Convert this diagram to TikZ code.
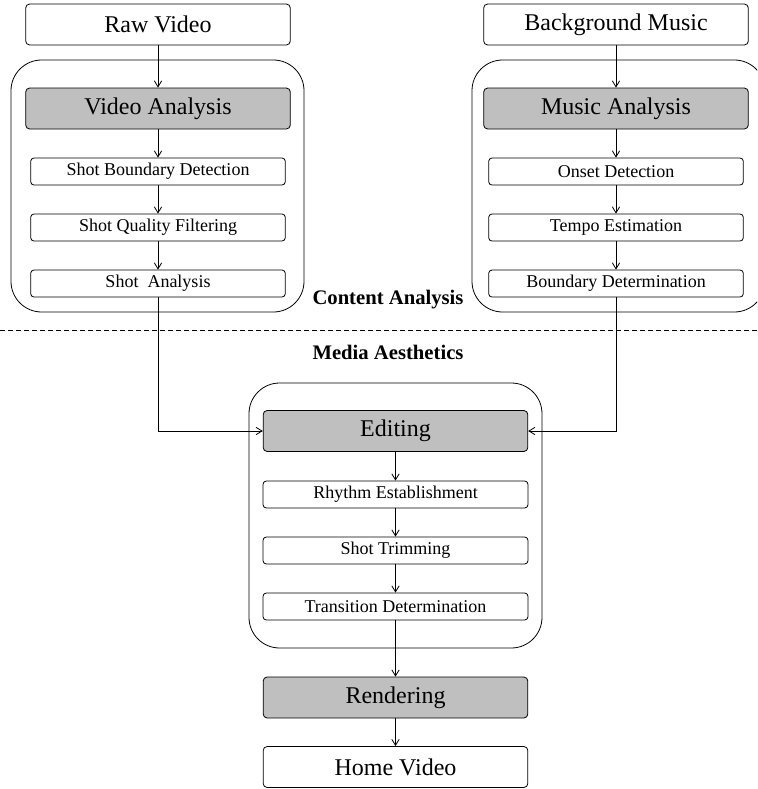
\documentclass[tikz,border=0pt]{standalone}
\usepackage{fontspec}
\setmainfont{Liberation Serif}
\usetikzlibrary{arrows.meta}

\begin{document}
\begin{tikzpicture}[x=0.75pt,y=-0.75pt,line width=0.6pt,
  every node/.style={inner sep=0pt},
  bigbox/.style={draw,rounded corners=3pt,minimum width=198.5pt,minimum height=30.75pt,
    font=\fontsize{18pt}{20pt}\selectfont},
  procbox/.style={bigbox,fill=black!25},
  stepbox/.style={draw,rounded corners=2.5pt,minimum width=191pt,minimum height=20.25pt,
    font=\fontsize{13.5pt}{15pt}\selectfont},
  widestep/.style={stepbox,minimum width=198.75pt},
  groupbox/.style={draw,rounded corners=23pt,minimum width=219.75pt},
  layer/.style={font=\fontsize{15.5pt}{17pt}\selectfont\bfseries},
  arr/.style={-{Straight Barb[length=4.5pt,width=5.5pt]}}]
  \clip (0,0) rectangle (757,789);
  \node[groupbox,minimum height=189pt]    (vgroup) at (157.5,186) {};
  \node[groupbox,minimum height=189pt]    (mgroup) at (618.5,186) {};
  \node[groupbox,minimum height=198.75pt] (egroup) at (395.5,515.5) {};
  \node[bigbox]   (rawvideo) at (158,24.5)  {Raw Video};
  \node[procbox]  (videoana) at (158,108.5) {Video Analysis};
  \node[stepbox]  (boundary) at (158,171.5) {Shot Boundary Detection};
  \node[stepbox]  (quality)  at (158,227.5) {Shot Quality Filtering};
  \node[stepbox]  (shotana)  at (158,283.5) {Shot~ Analysis};
  \node[bigbox]   (bgmusic)  at (616,24.5)  {Background Music};
  \node[procbox]  (musicana) at (616,108.5) {Music Analysis};
  \node[stepbox]  (onset)    at (616,171.5) {Onset Detection};
  \node[stepbox]  (tempo)    at (616,227.5) {Tempo Estimation};
  \node[stepbox]  (musicbd)  at (616,283.5) {Boundary Determination};
  \node[procbox]  (editing)  at (395.5,431)   {Editing};
  \node[widestep] (rhythm)   at (395.5,494.5) {Rhythm Establishment};
  \node[widestep] (trimming) at (395.5,550.5) {Shot Trimming};
  \node[widestep] (transit)  at (395.5,606.5) {Transition Determination};
  \node[procbox]  (rendering) at (395.5,697.5) {Rendering};
  \node[bigbox]   (homevideo) at (395.5,767)   {Home Video};
  \node[layer] (content) at (388,300) {Content Analysis};
  \node[layer] (media)   at (388,352) {Media Aesthetics};
  \draw[dashed,dash pattern=on 3.5pt off 2.5pt] (0,330) -- (757,330);
  \draw[arr] (rawvideo) -- (videoana);
  \draw[arr] (videoana) -- (boundary);
  \draw[arr] (boundary) -- (quality);
  \draw[arr] (quality) -- (shotana);
  \draw[arr] (bgmusic) -- (musicana);
  \draw[arr] (musicana) -- (onset);
  \draw[arr] (onset) -- (tempo);
  \draw[arr] (tempo) -- (musicbd);
  \draw[arr] (shotana) |- (editing);
  \draw[arr] (musicbd) |- (editing);
  \draw[arr] (editing) -- (rhythm);
  \draw[arr] (rhythm) -- (trimming);
  \draw[arr] (trimming) -- (transit);
  \draw[arr] (transit) -- (rendering);
  \draw[arr] (rendering) -- (homevideo);
\end{tikzpicture}
\end{document}
